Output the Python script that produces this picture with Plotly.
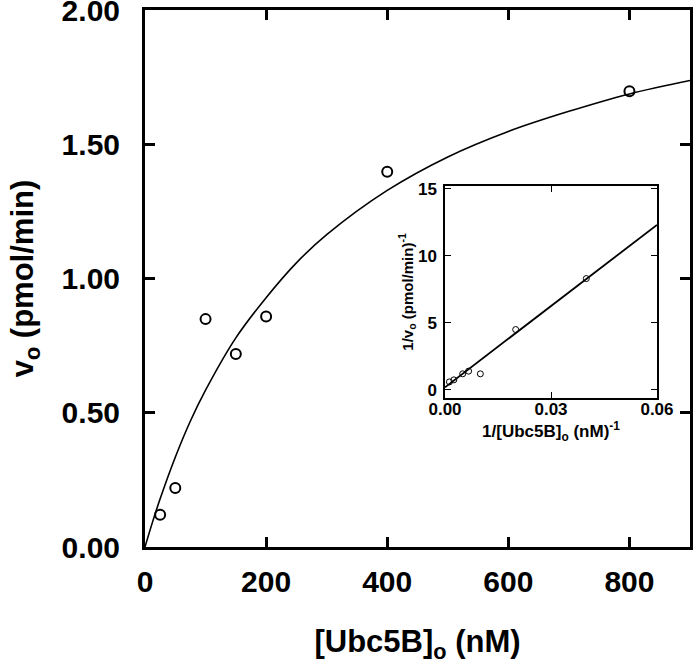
import plotly.graph_objects as go

# ---- main plot data (Michaelis-Menten) ----
substrate_nM = [25, 50, 100, 150, 200, 400, 800]
velocity = [0.12, 0.22, 0.85, 0.72, 0.86, 1.40, 1.70]

# fitted curve
fit_x = [0, 12, 25, 50, 75, 100, 150, 200, 250, 300, 400, 500, 600, 700, 800, 900]
fit_y = [0, 0.09, 0.18, 0.335, 0.47, 0.585, 0.78, 0.93, 1.06, 1.165, 1.33, 1.455, 1.55, 1.625, 1.69, 1.74]

# ---- inset (Lineweaver-Burk) data ----
inv_substrate = [0.04, 0.02, 0.01, 0.00667, 0.005, 0.0025, 0.00125]
inv_velocity = [8.3, 4.5, 1.2, 1.4, 1.2, 0.75, 0.6]
lb_fit_x = [0.0, 0.06]
lb_fit_y = [0.2, 12.3]

main_ticks_x = [0, 200, 400, 600, 800]
main_ticks_y = [0, 0.5, 1.0, 1.5, 2.0]
inset_ticks_x = [0.0, 0.03, 0.06]
inset_ticks_y = [0, 5, 10, 15]

FONT = "Liberation Sans, Arial, sans-serif"

fig = go.Figure()
fig.add_trace(go.Scatter(x=fit_x, y=fit_y, mode="lines", line=dict(color="black", width=1.6, shape="spline"),
                         xaxis="x", yaxis="y", showlegend=False, hoverinfo="skip"))
fig.add_trace(go.Scatter(x=substrate_nM, y=velocity, mode="markers",
                         marker=dict(symbol="circle-open", size=10, color="black", line=dict(width=2, color="black")),
                         xaxis="x", yaxis="y", showlegend=False))
fig.add_trace(go.Scatter(x=lb_fit_x, y=lb_fit_y, mode="lines", line=dict(color="black", width=1.8),
                         xaxis="x2", yaxis="y2", showlegend=False, hoverinfo="skip"))
fig.add_trace(go.Scatter(x=inv_substrate, y=inv_velocity, mode="markers",
                         marker=dict(symbol="circle-open", size=6, color="black", line=dict(width=1, color="black")),
                         xaxis="x2", yaxis="y2", showlegend=False))

main_tickfont = dict(family=FONT, size=30, color="black", weight="bold")
inset_tickfont = dict(family=FONT, size=17, color="black", weight="bold")

fig.update_layout(
    width=693, height=665,
    margin=dict(l=145, r=3, t=10, b=118),
    paper_bgcolor="white", plot_bgcolor="white",
    xaxis=dict(range=[0, 900], tickvals=main_ticks_x, ticktext=[str(v) for v in main_ticks_x],
               showline=True, linecolor="black", linewidth=3, mirror="ticks",
               ticks="inside", ticklen=10, tickwidth=3, tickcolor="black", automargin=False,
               ticklabeloverflow="allow",
               showgrid=False, zeroline=False, tickfont=main_tickfont, ticklabelstandoff=6,
               title=dict(text="[Ubc5B]<sub>o</sub> (nM)", font=dict(family=FONT, size=31, color="black", weight="bold"),
                          standoff=34)),
    yaxis=dict(range=[0, 2.003], tickvals=main_ticks_y, ticktext=["%.2f" % v for v in main_ticks_y],
               showline=True, linecolor="black", linewidth=3, mirror="ticks",
               ticks="inside", ticklen=10, tickwidth=3, tickcolor="black", automargin=False,
               ticklabeloverflow="allow",
               showgrid=False, zeroline=False, tickfont=main_tickfont, ticklabelstandoff=16,
               title=dict(text="v<sub>o</sub> (pmol/min)", font=dict(family=FONT, size=31, color="black", weight="bold"),
                          standoff=19)),
    xaxis2=dict(domain=[0.5505, 0.9394], anchor="y2", range=[0, 0.06], tickvals=inset_ticks_x,
                ticktext=["%.2f" % v for v in inset_ticks_x],
                showline=True, linecolor="black", linewidth=1.5, mirror="ticks", automargin=False,
                ticks="inside", ticklen=6, tickwidth=1, tickcolor="black", ticklabeloverflow="allow",
                showgrid=False, zeroline=False, tickfont=inset_tickfont, ticklabelstandoff=-5,
                title=dict(text="1/[Ubc5B]<sub>o</sub> (nM)<sup>-1</sup>",
                           font=dict(family=FONT, size=17, color="black", weight="bold"), standoff=0)),
    yaxis2=dict(domain=[0.2775, 0.6723], anchor="x2", range=[-0.6, 15.2], tickvals=inset_ticks_y,
                ticktext=[str(v) for v in inset_ticks_y],
                showline=True, linecolor="black", linewidth=1.5, mirror="ticks", automargin=False,
                ticks="inside", ticklen=6, tickwidth=1, tickcolor="black", ticklabeloverflow="allow",
                showgrid=False, zeroline=False, tickfont=inset_tickfont, ticklabelstandoff=3,
                title=dict(text="1/v<sub>o</sub> (pmol/min)<sup>-1</sup>",
                           font=dict(family=FONT, size=15, color="black", weight="bold"), standoff=0)),
)

fig.write_html("out.html", config={"displayModeBar": False},
               post_script="document.body.style.margin='0';")
